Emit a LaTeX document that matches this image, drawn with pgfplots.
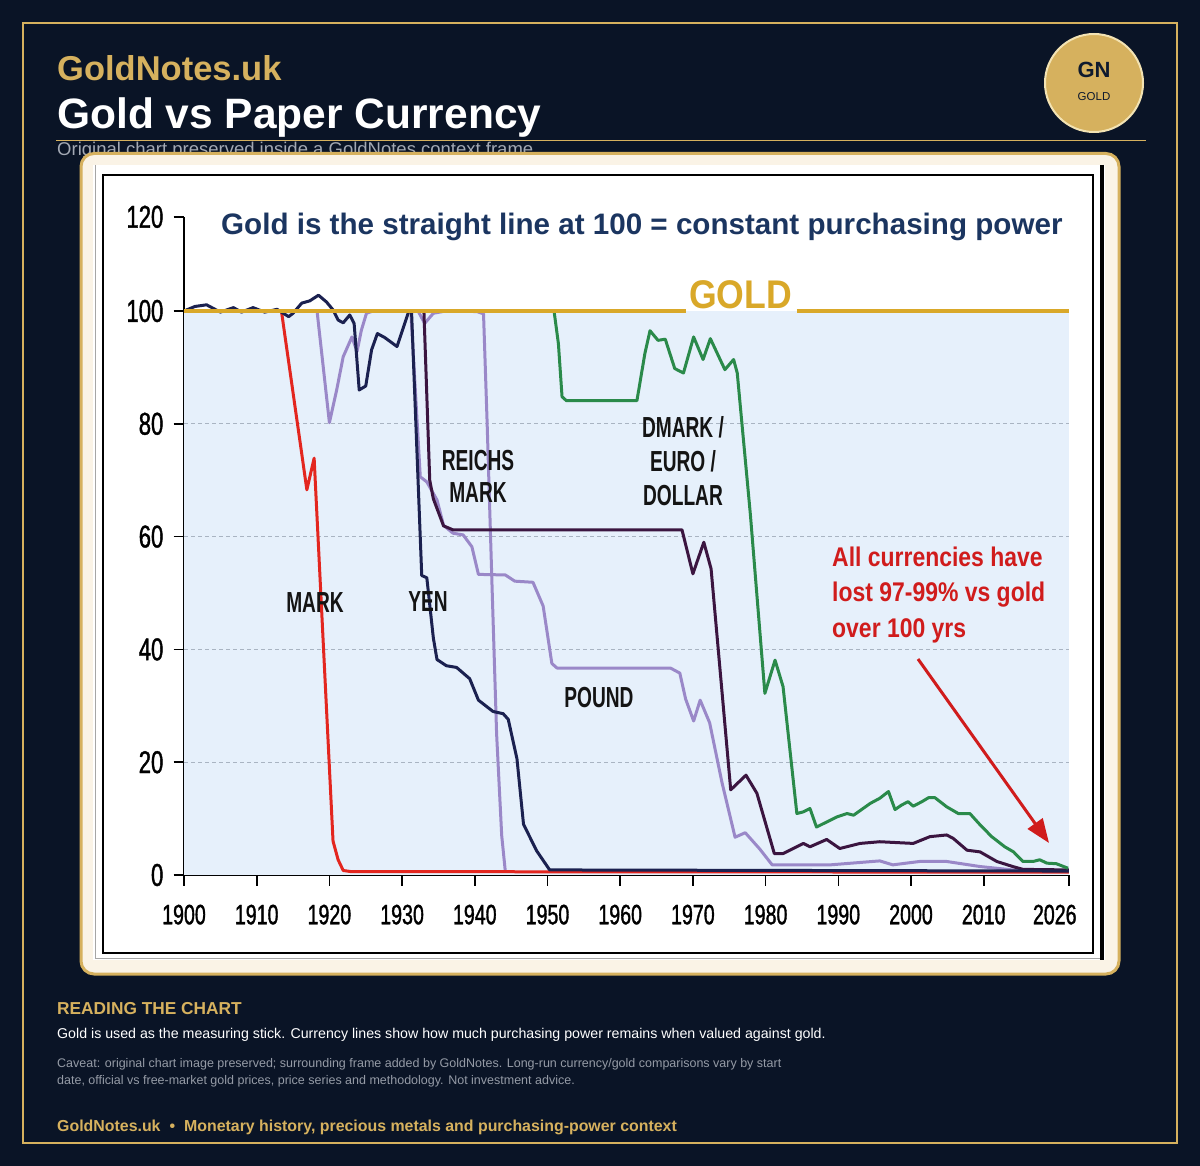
\documentclass[border=0pt]{standalone}
\usepackage{fontspec}
\usepackage{pgfplots}
\pgfplotsset{compat=1.18}
\usetikzlibrary{arrows.meta}
\setmainfont{Liberation Sans}
\newfontfamily\condreg{Liberation Sans}[FakeStretch=0.70,FakeBold=1.2]
\newfontfamily\condlab{Liberation Sans Bold}[FakeStretch=0.66]
\newfontfamily\condred{Liberation Sans Bold}[FakeStretch=0.85]
\newfontfamily\condgold{Liberation Sans Bold}[FakeStretch=0.89]
\definecolor{bgnavy}{HTML}{0A1426}
\definecolor{gframe}{HTML}{D6B15E}
\definecolor{cream}{HTML}{FAF3E6}
\definecolor{subgray}{HTML}{A3A9B4}
\definecolor{cavgray}{HTML}{959BA6}
\definecolor{titlenavy}{HTML}{1B3560}
\definecolor{goldln}{HTML}{D9A829}
\definecolor{markred}{HTML}{E3261F}
\definecolor{yennavy}{HTML}{1B2150}
\definecolor{lilac}{HTML}{9A88C8}
\definecolor{plum}{HTML}{3B1540}
\definecolor{dgreen}{HTML}{2A8A4A}
\definecolor{plotbg}{HTML}{E6F0FB}
\definecolor{gridc}{HTML}{A9B4C2}
\definecolor{annred}{HTML}{D01C1C}
\definecolor{gnink}{HTML}{0F1A2E}
\definecolor{gnring}{HTML}{F3E3B3}
\begin{document}
\begin{tikzpicture}
\begin{scope}[x=1pt,y=-1pt]
\fill[bgnavy] (0,0) rectangle (1200,1166);
\draw[gframe,line width=2.5pt] (23,23) rectangle (1177,1143);
\node[anchor=base west,inner sep=0pt,text=gframe,font=\bfseries\fontsize{34.5}{40}\selectfont] at (57,81) {GoldNotes.uk};
\node[anchor=base west,inner sep=0pt,text=white,font=\bfseries\fontsize{42.5}{48}\selectfont] at (57,129) {Gold vs Paper Currency};
\draw[gframe,line width=1.5pt] (56,140.5) -- (1146,140.5);
\node[anchor=base west,inner sep=0pt,text=subgray,font=\fontsize{18.5}{22}\selectfont] at (57,156) {Original chart preserved inside a GoldNotes context frame};
\draw[gnring,line width=2pt,fill=gframe] (1094,83) circle[radius=49pt];
\node[text=gnink,inner sep=0pt,font=\bfseries\fontsize{22}{24}\selectfont] at (1094,70) {GN};
\node[text=gnink,inner sep=0pt,font=\fontsize{11.5}{13}\selectfont] at (1094,97) {GOLD};
\draw[gframe,line width=3pt,fill=cream,rounded corners=13pt] (81,153.5) rectangle (1119,974);
\fill[white] (93,165) rectangle (1105,960);
\draw[gray!70,line width=1pt] (95,165) -- (95,958) -- (1100,958);
\draw[black,line width=2.5pt] (103,175) rectangle (1093,953);
\draw[black,line width=3.5pt] (1102,165) -- (1102,960);
\node[anchor=base west,inner sep=0pt,text=titlenavy,font=\bfseries\fontsize{29.6}{34}\selectfont] at (221,235) {Gold is the straight line at 100 = constant purchasing power};
\end{scope}
\begin{axis}[
 at={(184pt,-875pt)}, anchor=south west,
 x=7.27pt, y=5.64pt,
 xmin=1900, xmax=2021.7, ymin=0, ymax=116.7,
 axis x line=bottom, axis y line=left,
 axis line style={-, line width=1.8pt, black},
 xtick={1900,1910,1920,1930,1940,1950,1960,1970,1980,1990,2000,2010,2021.7},
 xticklabels={1900,1910,1920,1930,1940,1950,1960,1970,1980,1990,2000,2010,{\hspace*{-28pt}2026}},
 ytick={0,20,40,60,80,100,116.7},
 yticklabels={0,20,40,60,80,100,120},
 tick align=outside, major tick length=10.5pt,
 every tick/.style={black, line width=1.6pt},
 xticklabel style={font=\condreg\fontsize{28}{30}\selectfont, inner sep=0pt, anchor=north, yshift=-19pt},
 yticklabel style={font=\condreg\fontsize{31.5}{33}\selectfont, inner sep=0pt, anchor=east, xshift=-10pt},
 /pgf/number format/assume math mode=true,
]
\fill[plotbg] (axis cs:1900,0) rectangle (axis cs:2021.7,100);
\pgfplotsinvokeforeach{20,40,60,80}{\draw[gridc,line width=1pt,dash pattern=on 4pt off 3pt] (axis cs:1900,#1) -- (axis cs:2021.7,#1);}
% Pound
\addplot[lilac, line width=3pt, line join=round] coordinates {(1918.3,100)(1920,80.2)(1921,86)(1921.9,91.9)(1923.1,95.4)(1923.8,92.8)(1924.4,96.6)(1925.1,99.6)(1926,100)(1931.2,100)(1932.5,70.6)(1933.4,69.7)(1934.8,66.5)(1935.7,62)(1937,60.6)(1938.4,60.3)(1939.6,58.2)(1940.5,53.3)(1944.2,53.2)(1945.5,52.1)(1948,51.9)(1949.4,47.7)(1950.6,37.5)(1951.3,36.7)(1966.9,36.7)(1968.2,35.8)(1969,31.2)(1970.1,27.3)(1971,31)(1972.3,27)(1974,16.4)(1975.8,6.7)(1977.2,7.5)(1979.2,4.6)(1980.9,1.8)(1988.9,1.8)(1995.7,2.5)(1997.5,1.8)(2001.2,2.4)(2004.9,2.4)(2009.5,1.5)(2014,0.9)(2021.7,0.6)};
% Reichsmark
\addplot[lilac, line width=3pt, line join=round] coordinates {(1931,100)(1932.2,100)(1933.1,97.8)(1934.3,99.6)(1936,100)(1940.3,99.9)(1941.2,99.5)(1941.7,80)(1942.4,50)(1943,25)(1943.7,7)(1944.2,0.6)};
% Red mark
\addplot[markred, line width=3pt, line join=round] coordinates {(1913.4,100)(1916.9,68.3)(1917.9,73.9)(1920.5,6)(1921.2,2.7)(1921.9,0.8)(1923,0.6)(2021.7,0.5)};
% Dollar
\addplot[plum, line width=3pt, line join=round] coordinates {(1933,100)(1933.8,70)(1934.3,66.7)(1935.7,61.9)(1937,61.2)(1968.5,61.2)(1970,53.4)(1971.5,59)(1972.5,54.3)(1975.2,15.1)(1977.3,17.7)(1978.8,14.5)(1981.2,3.8)(1982.4,3.8)(1983.8,4.7)(1985.2,5.6)(1986.1,5)(1988.4,6.3)(1990.2,4.7)(1993,5.6)(1995.7,5.9)(2000.3,5.6)(2002.6,6.8)(2004.9,7.1)(2005.8,6.5)(2007.7,4.4)(2009.5,4.1)(2011.8,2.4)(2014,1.5)(2015.4,1)(2021.7,0.9)};
% Yen
\addplot[yennavy, line width=3pt, line join=round] coordinates {(1900,100)(1901.5,100.8)(1903.1,101.1)(1905,99.8)(1906.8,100.6)(1907.9,99.8)(1909.5,100.6)(1911.1,99.8)(1912.8,100.3)(1913.4,99.8)(1914.4,99)(1915,99.6)(1916.2,101.4)(1917.3,101.8)(1918.5,102.8)(1919.6,101.6)(1920.5,100.2)(1921.2,98.4)(1921.9,97.9)(1922.8,99.3)(1923.4,97.8)(1924.1,86)(1925,86.7)(1925.8,93.1)(1926.6,96)(1927.6,95.3)(1929.3,93.7)(1930.9,99.9)(1931.3,99.9)(1932.7,53.1)(1933.4,52.7)(1934.3,42)(1934.8,38.2)(1936.1,37.1)(1937.5,36.8)(1939.3,34.8)(1940.5,31)(1942.5,29)(1943.9,28.6)(1944.6,27.6)(1945.8,20.6)(1946.7,9)(1948.5,4.3)(1950.3,0.9)(2021.7,0.7)};
% DMark / Euro
\addplot[dgreen, line width=3pt, line join=round] coordinates {(1950.9,100)(1951.5,94.2)(1952,84.8)(1952.6,84.1)(1962.3,84.1)(1963.4,92.5)(1964.1,96.5)(1965.2,94.8)(1966.2,95)(1967.5,89.8)(1968.7,89)(1970.1,95.4)(1971.4,91.4)(1972.4,95.1)(1974.4,89.6)(1975.6,91.4)(1976.1,89)(1977.9,64)(1979.9,32.2)(1981.3,38.1)(1982.4,33.4)(1984.3,10.9)(1985.2,11.2)(1986.1,11.8)(1987,8.5)(1988.4,9.4)(1989.8,10.3)(1991.2,10.9)(1992.1,10.6)(1994.4,12.7)(1995.7,13.6)(1996.9,14.8)(1997.8,11.6)(1998.7,12.4)(1999.6,13)(2000.3,12.2)(2001.5,13)(2002.4,13.7)(2003.3,13.7)(2004.9,12.1)(2006.5,10.9)(2008.1,10.9)(2009.5,8.9)(2011.1,6.8)(2012.9,5)(2014.1,4.1)(2015.4,2.4)(2016.8,2.4)(2017.7,2.7)(2018.7,2.1)(2020,2)(2021.6,1.2)};
% Gold
\addplot[goldln, line width=3.5pt] coordinates {(1900,100)(1969.1,100)};
\addplot[goldln, line width=3.5pt] coordinates {(1984.3,100)(2021.7,100)};
\end{axis}
\begin{scope}[x=1pt,y=-1pt]
\node[anchor=base,inner sep=0pt,text=goldln,font=\condgold\fontsize{40}{44}\selectfont] at (740.5,309) {GOLD};
\tikzset{lab/.style={anchor=base,inner sep=0pt,text=black!92,font=\condlab\fontsize{29}{32}\selectfont}}
\node[lab] at (315,612) {MARK};
\node[lab] at (428,611) {YEN};
\node[lab] at (478,470) {REICHS};
\node[lab] at (478,502) {MARK};
\node[lab] at (683,437) {DMARK /};
\node[lab] at (683,471.5) {EURO /};
\node[lab] at (683,505) {DOLLAR};
\node[lab] at (599,707.5) {POUND};
\tikzset{red/.style={anchor=base west,inner sep=0pt,text=annred,font=\condred\fontsize{27}{30}\selectfont}}
\node[red] at (832,566.7) {All currencies have};
\node[red] at (832,601.7) {lost 97-99\% vs gold};
\node[red] at (832,637) {over 100 yrs};
\draw[annred,line width=3pt,-{Triangle[length=24pt,width=18pt]}] (918,659) -- (1049,843);
\node[anchor=base west,inner sep=0pt,text=gframe,font=\bfseries\fontsize{17.3}{20}\selectfont] at (57,1014) {READING THE CHART};
\node[anchor=base west,inner sep=0pt,text=white,font=\fontsize{14.2}{16}\selectfont] at (57,1038.3) {Gold is used as the measuring stick. Currency lines show how much purchasing power remains when valued against gold.};
\node[anchor=base west,inner sep=0pt,text=cavgray,font=\fontsize{12.5}{14}\selectfont] at (57,1067.3) {Caveat: original chart image preserved; surrounding frame added by GoldNotes. Long-run currency/gold comparisons vary by start};
\node[anchor=base west,inner sep=0pt,text=cavgray,font=\fontsize{12.5}{14}\selectfont] at (57,1084.3) {date, official vs free-market gold prices, price series and methodology. Not investment advice.};
\node[anchor=base west,inner sep=0pt,text=gframe,font=\bfseries\fontsize{15.9}{18}\selectfont] at (57,1131.7) {GoldNotes.uk\hspace{9pt}•\hspace{9pt}Monetary history, precious metals and purchasing-power context};
\end{scope}
\end{tikzpicture}
\end{document}
